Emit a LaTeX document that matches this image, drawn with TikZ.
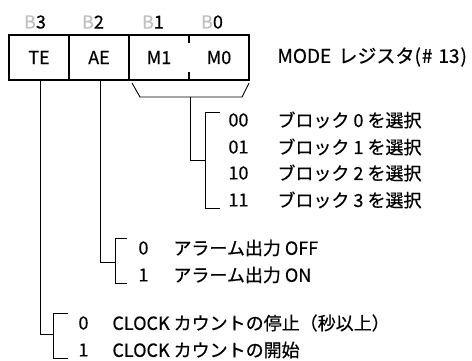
\documentclass[tikz,border=0pt]{standalone}
\usepackage{fontspec}
\setmainfont{Noto Sans CJK JP}[FakeBold=0.5]
\begin{document}
\begin{tikzpicture}[x=1pt,y=-1pt,
  font=\fontsize{18}{21}\selectfont,
  line width=0.9pt,
  cell/.style={minimum width=60pt, minimum height=45pt, inner sep=0pt, outer sep=0pt},
  lbl/.style={anchor=west, inner sep=0pt},
  bitlbl/.style={inner sep=0pt},
  boxline/.style={line width=1.6pt}]
\useasboundingbox (0,0) rectangle (472,360);
% bit labels
\node[bitlbl] (b3) at (35,22) {{\color{black!25}B}3};
\node[bitlbl] (b2) at (93,22) {{\color{black!25}B}2};
\node[bitlbl] (b1) at (153,22) {{\color{black!25}B}1};
\node[bitlbl] (b0) at (212,22) {{\color{black!25}B}0};
% register cells
\node[cell] (te) at (39,57.5) {TE};
\node[cell] (ae) at (99,57.5) {AE};
\node[cell] (m1) at (159,57.5) {M1};
\node[cell] (m0) at (219,57.5) {M0};
\draw[boxline] (te.north west) rectangle (m0.south east);
\draw[boxline] (te.north east) -- (te.south east);
\draw[boxline] (ae.north east) -- (ae.south east);
\draw[boxline] (m1.north east) -- ++(0,8);
\draw[boxline] (m1.south east) -- ++(0,-8);
\node[lbl] (mode) at (277,57) {\fontsize{19}{22}\selectfont MODE\hspace{3pt} レジスタ(\hspace{1pt}\#\hspace{6pt}13\hspace{1pt})};
% M1/M0 brace
\coordinate (mb1) at (132,83);
\coordinate (mb2) at (140,97);
\coordinate (mb3) at (242,97);
\coordinate (mb4) at (249,83);
\coordinate (mbc) at (190,97);
\draw (mb1) -- (mb2) -- (mb3) -- (mb4);
\coordinate (mj) at (205,160);
\draw (mbc) |- (mj);
\draw (220,112) -- (205,112) -- (205,208) -- (220,208);
\node[lbl] (c00) at (228,120) {00};
\node[lbl] (c01) at (228,147) {01};
\node[lbl] (c10) at (228,173) {10};
\node[lbl] (c11) at (228,200) {11};
\node[lbl] (d00) at (277,120) {ブロック 0 を選択};
\node[lbl] (d01) at (277,147) {ブロック 1 を選択};
\node[lbl] (d10) at (277,173) {ブロック 2 を選択};
\node[lbl] (d11) at (277,200) {ブロック 3 を選択};
% AE
\coordinate (aej) at (115,262);
\draw (ae.south -| 100,0) |- (aej);
\draw (127,238) -- (115,238) -- (115,283) -- (127,283);
\node[lbl] (ae0) at (138,248) {0};
\node[lbl] (ae1) at (138,275) {1};
\node[lbl] (ae0t) at (173,248) {アラーム出力 OFF};
\node[lbl] (ae1t) at (173,275) {アラーム出力 ON};
% TE
\coordinate (tej) at (53,334);
\draw (te.south -| 40,0) |- (tej);
\draw (68,313) -- (53,313) -- (53,358) -- (68,358);
\node[lbl] (te0) at (78,323) {0};
\node[lbl] (te1) at (78,350) {1};
\node[lbl] (te0t) at (112,323) {CLOCK カウントの停止（秒以上）};
\node[lbl] (te1t) at (112,350) {CLOCK カウントの開始};
\end{tikzpicture}
\end{document}
